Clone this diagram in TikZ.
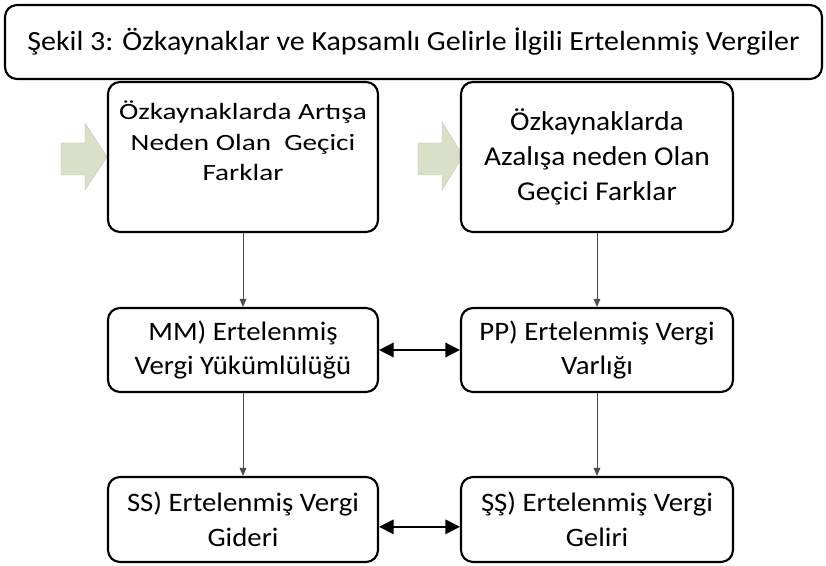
\documentclass[tikz,border=0pt]{standalone}
\usepackage{fontspec}
\setmainfont{Carlito}[FakeStretch=1.08]
\newfontfamily\widefont{Carlito}[FakeStretch=1.25]
\usetikzlibrary{arrows.meta}
\definecolor{arrgreen}{RGB}{218,223,200}
\tikzset{
  box/.style={draw=black, line width=1.6pt, rounded corners=9pt, fill=white, align=center, inner sep=2pt, font=\fontsize{20pt}{26pt}\selectfont},
  boxtext/.style={align=center, inner sep=0pt},
  conn/.style={draw=black!70, line width=0.7pt, -{Triangle[length=6pt,width=5pt]}},
  dbl/.style={draw=black, line width=1.1pt, {Triangle[length=11pt,width=11pt]}-{Triangle[length=11pt,width=11pt]}},
  garrow/.style={fill=arrgreen, draw=arrgreen!88!black, line width=0.3pt}
}
\begin{document}
\begin{tikzpicture}[x=0.75pt,y=-0.75pt]
\useasboundingbox (0,0) rectangle (826,566);
% green arrows
\filldraw[garrow] (61,143) -- (85,143) -- (85,123) -- (107,157) -- (85,190) -- (85,175) -- (61,175) -- cycle;
\filldraw[garrow] (418,143) -- (442,143) -- (442,122) -- (463,156) -- (442,190) -- (442,175) -- (418,175) -- cycle;
\node[box, minimum width=612.75pt, minimum height=55.5pt, font=\fontsize{20.8pt}{24pt}\selectfont] (title) at (413.5,42) {Şekil 3: Özkaynaklar ve Kapsamlı Gelirle İlgili Ertelenmiş Vergiler};
\node[box, minimum width=202.5pt, minimum height=112.5pt] (inc) at (243,157) {};
\node[boxtext, font=\widefont\fontsize{17.5pt}{23pt}\selectfont] (inctext) at ([yshift=12pt]inc.center) {Özkaynaklarda Artışa\\Neden Olan~~Geçici\\Farklar};
\node[box, minimum width=204pt, minimum height=112.5pt, font=\fontsize{20.4pt}{26pt}\selectfont] (dec) at (597,157) {Özkaynaklarda\\Azalışa neden Olan\\Geçici Farklar};
\node[box, minimum width=202.5pt, minimum height=63pt] (mm) at (243,350) {MM) Ertelenmiş\\Vergi Yükümlülüğü};
\node[box, minimum width=204pt, minimum height=63pt] (pp) at (597,350) {PP) Ertelenmiş Vergi\\Varlığı};
\node[box, minimum width=202.5pt, minimum height=63.75pt] (ss) at (243,519.5) {SS) Ertelenmiş Vergi\\Gideri};
\node[box, minimum width=204pt, minimum height=63.75pt] (sz) at (597,519.5) {ŞŞ) Ertelenmiş Vergi\\Geliri};
\draw[conn] (inc) -- (mm);
\draw[conn] (dec) -- (pp);
\draw[conn] (mm) -- (ss);
\draw[conn] (pp) -- (sz);
\draw[dbl] (mm) -- (pp);
\draw[dbl] ([yshift=-5.5pt]ss.east) -- ([yshift=-5.5pt]sz.west);
\end{tikzpicture}
\end{document}
